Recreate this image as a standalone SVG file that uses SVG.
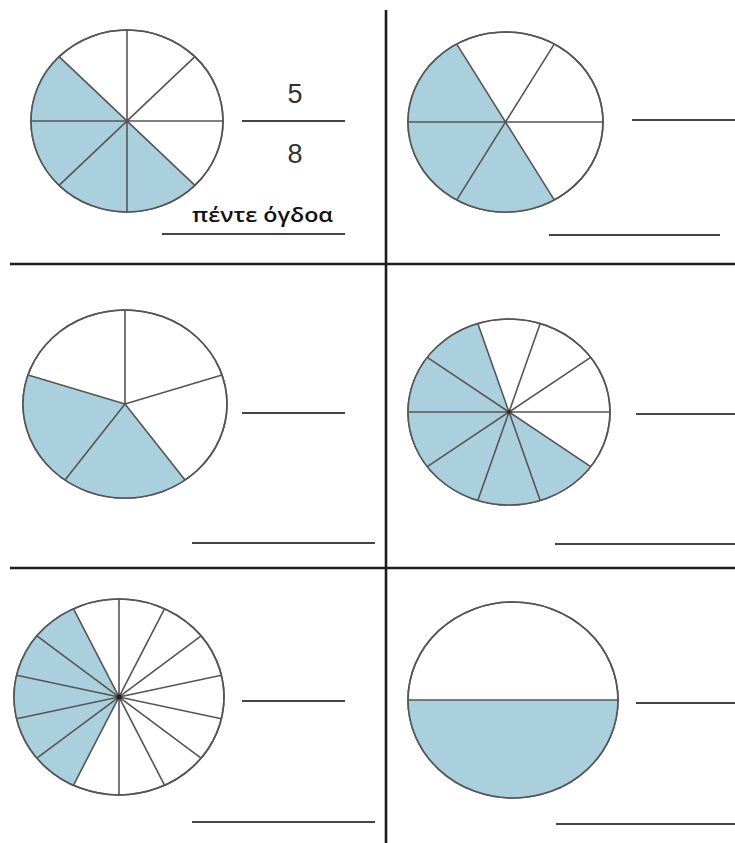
<svg xmlns="http://www.w3.org/2000/svg" width="735" height="843" viewBox="0 0 735 843">
<style>
.bg{fill:#ffffff}
.grid{stroke:#1c1c1c;stroke-width:2.6;fill:none}
.ans{stroke:#444;stroke-width:2;fill:none}
.rim{fill:#ffffff;stroke:#555;stroke-width:1.6}
.fill{fill:#abd0dd;stroke:none}
.spoke{stroke:#555;stroke-width:1.6;fill:none}
.rim2{fill:none;stroke:#555;stroke-width:1.6}
.num{font-family:"Liberation Sans","DejaVu Sans",sans-serif;font-size:27px;fill:#333;text-anchor:middle}
.word{font-family:"Open Sans","DejaVu Sans",sans-serif;font-size:19px;font-weight:600;fill:#111}
</style>
<rect class="bg" x="0" y="0" width="735" height="843"/>
<g id="grid">
<line class="grid" x1="386" y1="10" x2="386" y2="843"/>
<line class="grid" x1="10" y1="264" x2="735" y2="264"/>
<line class="grid" x1="10" y1="568" x2="735" y2="568"/>
</g>
<g id="circle-eighths">
<ellipse class="rim" cx="127" cy="121" rx="96" ry="91"/>
<path class="fill" d="M127 121 L59.1 56.7 A96 91 0 0 0 127 212 A96 91 0 0 0 194.9 185.3 Z"/>
<path class="spoke" d="M31 121 L223 121 M127 30 L127 212 M59.1 56.7 L194.9 185.3 M194.9 56.7 L59.1 185.3"/>
<ellipse class="rim2" cx="127" cy="121" rx="96" ry="91"/>
<text class="num" x="295" y="103">5</text>
<line class="ans" x1="242" y1="121" x2="345" y2="121"/>
<text class="num" x="295" y="163">8</text>
<text class="word" x="192" y="222" textLength="141" lengthAdjust="spacingAndGlyphs">πέντε όγδοα</text>
<line class="ans" x1="162" y1="234" x2="345" y2="234"/>
</g>
<g id="circle-sixths">
<ellipse class="rim" cx="505.5" cy="122" rx="97.5" ry="90"/>
<path class="fill" d="M505.5 122 L456.75 44.1 A97.5 90 0 0 0 408 122 A97.5 90 0 0 0 554.25 199.9 Z"/>
<path class="spoke" d="M408 122 L603 122 M456.75 44.1 L554.25 199.9 M554.25 44.1 L456.75 199.9"/>
<ellipse class="rim2" cx="505.5" cy="122" rx="97.5" ry="90"/>
<line class="ans" x1="632" y1="120" x2="735" y2="120"/>
<line class="ans" x1="549" y1="235" x2="720" y2="235"/>
</g>
<g id="circle-fifths">
<ellipse class="rim" cx="125" cy="404" rx="102" ry="94"/>
<path class="fill" d="M125 404 L28 375 A102 94 0 0 0 65 480 A102 94 0 0 0 185 480 Z"/>
<path class="spoke" d="M125 404 L125 310 M125 404 L222 375 M125 404 L28 375 M125 404 L65 480 M125 404 L185 480"/>
<ellipse class="rim2" cx="125" cy="404" rx="102" ry="94"/>
<line class="ans" x1="242" y1="413" x2="345" y2="413"/>
<line class="ans" x1="192" y1="543" x2="375" y2="543"/>
</g>
<g id="circle-tenths">
<ellipse class="rim" cx="509" cy="412" rx="101" ry="93"/>
<path class="fill" d="M509 412 L477.8 323.5 A101 93 0 0 0 408 412 A101 93 0 0 0 540.2 500.5 A101 93 0 0 0 590.7 466.7 Z"/>
<path class="spoke" d="M408 412 L610 412 M590.7 357.3 L427.3 466.7 M540.2 323.5 L477.8 500.5 M477.8 323.5 L540.2 500.5 M427.3 357.3 L590.7 466.7"/>
<ellipse class="rim2" cx="509" cy="412" rx="101" ry="93"/>
<circle cx="509" cy="412" r="2" fill="#333"/>
<line class="ans" x1="636" y1="414" x2="735" y2="414"/>
<line class="ans" x1="555" y1="544" x2="735" y2="544"/>
</g>
<g id="circle-fourteenths">
<ellipse class="rim" cx="119" cy="697" rx="105" ry="98"/>
<path class="fill" d="M119 697 L73.4 608.7 A105 98 0 0 0 14 697 A105 98 0 0 0 73.4 785.3 Z"/>
<path class="spoke" d="M119 599 L119 795 M164.6 608.7 L73.4 785.3 M201.1 635.9 L36.9 758.1 M221.4 675.2 L16.6 718.8 M221.4 718.8 L16.6 675.2 M201.1 758.1 L36.9 635.9 M164.6 785.3 L73.4 608.7"/>
<ellipse class="rim2" cx="119" cy="697" rx="105" ry="98"/>
<circle cx="119" cy="697" r="2.5" fill="#222"/>
<line class="ans" x1="242" y1="701" x2="345" y2="701"/>
<line class="ans" x1="192" y1="822" x2="375" y2="822"/>
</g>
<g id="circle-halves">
<ellipse class="rim" cx="513" cy="700" rx="105" ry="98"/>
<path class="fill" d="M408 700 A105 98 0 0 0 618 700 Z"/>
<line class="spoke" x1="408" y1="700" x2="618" y2="700" stroke-width="2"/>
<ellipse class="rim2" cx="513" cy="700" rx="105" ry="98"/>
<line class="ans" x1="636" y1="703" x2="735" y2="703"/>
<line class="ans" x1="556" y1="824" x2="735" y2="824"/>
</g>
</svg>
